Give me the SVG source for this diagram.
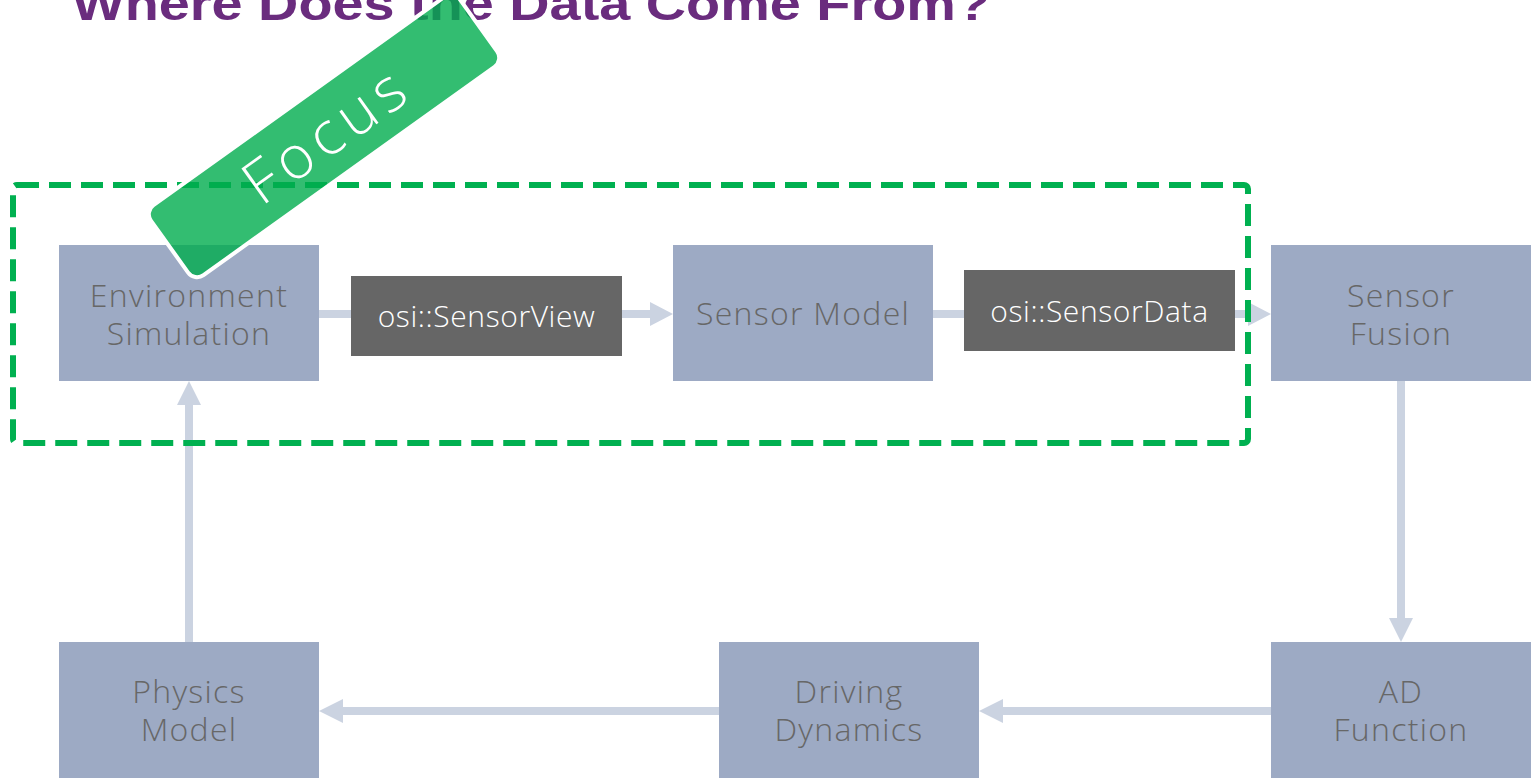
<svg xmlns="http://www.w3.org/2000/svg" width="1537" height="784" viewBox="0 0 1537 784">
<style>
.node{fill:#9DAAC4}
.nt{font-family:"Open Sans","Noto Sans",sans-serif;font-weight:300;font-size:32px;letter-spacing:1.3px;fill:#676767;text-anchor:middle}
.lbl{fill:#666666}
.lt{font-family:"Open Sans","Noto Sans",sans-serif;font-weight:300;font-size:30px;letter-spacing:0.6px;fill:#FFFFFF;text-anchor:middle}
.conn{stroke:#CBD3E1;stroke-width:8;fill:none}
.head{fill:#CBD3E1}
</style>
<rect width="1537" height="784" fill="#FFFFFF"/>
<text x="72" y="20" font-family="'Liberation Sans',Arial,sans-serif" font-weight="bold" font-size="46" fill="#6A2C7E" textLength="918" lengthAdjust="spacingAndGlyphs">Where Does the Data Come From?</text>
<g id="node-env"><rect class="node" x="59" y="245" width="260" height="136"/><text class="nt" x="189" y="307">Environment</text><text class="nt" x="189" y="345">Simulation</text></g>
<g id="node-sensormodel"><rect class="node" x="673" y="245" width="260" height="136"/><text class="nt" x="803" y="325">Sensor Model</text></g>
<g id="node-fusion"><rect class="node" x="1271" y="245" width="260" height="136"/><text class="nt" x="1401" y="307">Sensor</text><text class="nt" x="1401" y="345">Fusion</text></g>
<g id="node-physics"><rect class="node" x="59" y="642" width="260" height="136"/><text class="nt" x="189" y="703">Physics</text><text class="nt" x="189" y="741">Model</text></g>
<g id="node-driving"><rect class="node" x="719" y="642" width="260" height="136"/><text class="nt" x="849" y="703">Driving</text><text class="nt" x="849" y="741">Dynamics</text></g>
<g id="node-ad"><rect class="node" x="1271" y="642" width="260" height="136"/><text class="nt" x="1401" y="703">AD</text><text class="nt" x="1401" y="741">Function</text></g>
<g id="connectors">
<line class="conn" x1="319" y1="314" x2="652" y2="314"/><polygon class="head" points="650,302 673,314 650,326"/>
<line class="conn" x1="933" y1="314" x2="1250" y2="314"/><polygon class="head" points="1248,302 1271,314 1248,326"/>
<line class="conn" x1="1401" y1="381" x2="1401" y2="620"/><polygon class="head" points="1389,618 1401,642 1413,618"/>
<line class="conn" x1="1271" y1="711" x2="1001" y2="711"/><polygon class="head" points="1003,699 979,711 1003,723"/>
<line class="conn" x1="719" y1="711" x2="341" y2="711"/><polygon class="head" points="343,699 319,711 343,723"/>
<line class="conn" x1="189" y1="642" x2="189" y2="403"/><polygon class="head" points="177,405 189,381 201,405"/>
</g>
<g id="label-sensorview"><rect class="lbl" x="351" y="276" width="271" height="80"/><text class="lt" x="486.5" y="327">osi::SensorView</text></g>
<g id="label-sensordata"><rect class="lbl" x="964" y="270" width="271" height="81"/><text class="lt" x="1099.5" y="322">osi::SensorData</text></g>
<g id="focus-frame"><rect x="13" y="185" width="1235" height="258" rx="4" fill="none" stroke="#00B050" stroke-width="6" stroke-dasharray="22 10"/></g>
<g id="focus-banner" transform="translate(324,136) rotate(-35.6)">
<rect x="-190" y="-43" width="380" height="86" rx="11" fill="#00AD4D" fill-opacity="0.8" stroke="#FFFFFF" stroke-width="4"/>
<text x="0" y="21" font-family="'Open Sans','Noto Sans',sans-serif" font-weight="300" font-size="60" fill="#FFFFFF" text-anchor="middle" textLength="184" lengthAdjust="spacing">Focus</text>
</g>
</svg>
